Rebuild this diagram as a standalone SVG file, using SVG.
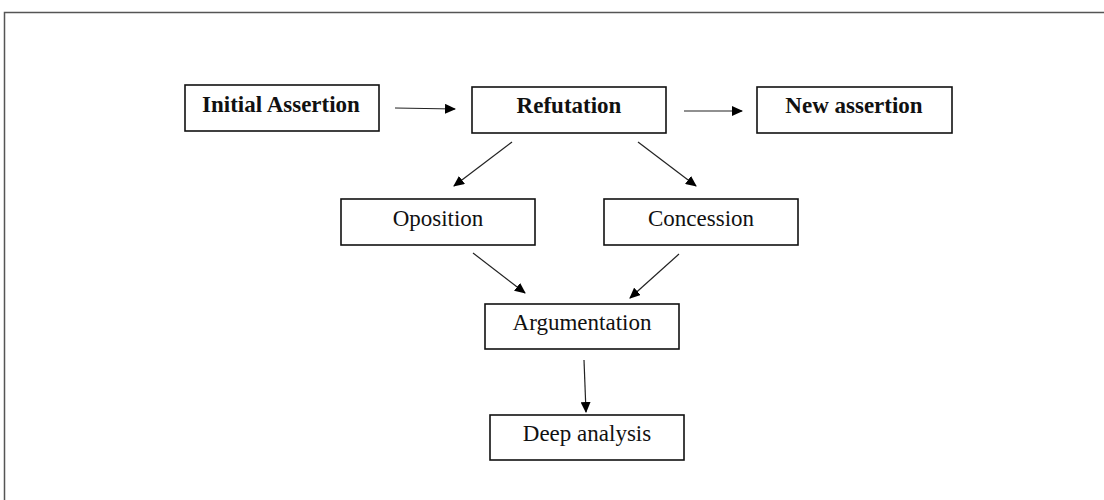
<svg xmlns="http://www.w3.org/2000/svg" width="1104" height="500" viewBox="0 0 1104 500">
<defs>
<marker id="ah" markerWidth="11" markerHeight="10" refX="10" refY="5" orient="auto" markerUnits="userSpaceOnUse">
<path d="M0,0 L11,5 L0,10 Z" fill="#000"/>
</marker>
<style>
.box{fill:#fff;stroke:#111;stroke-width:1.6}
.b{font-family:"Liberation Serif","Times New Roman",serif;font-size:23px;font-weight:bold;fill:#111;text-anchor:middle}
.r{font-family:"Liberation Serif","Times New Roman",serif;font-size:23px;fill:#111;text-anchor:middle}
.c{stroke:#222;stroke-width:1.2;fill:none;marker-end:url(#ah)}
</style>
</defs>
<rect x="0" y="0" width="1104" height="500" fill="#fff"/>
<rect x="4.5" y="12.5" width="1110" height="500" fill="none" stroke="#555" stroke-width="1.5"/>
<g id="initial-assertion"><rect class="box" x="185" y="85" width="194" height="46"/><text class="b" x="281" y="112">Initial Assertion</text></g>
<g id="refutation"><rect class="box" x="472" y="87" width="194" height="46"/><text class="b" x="569" y="113">Refutation</text></g>
<g id="new-assertion"><rect class="box" x="757" y="87" width="195" height="46"/><text class="b" x="854" y="113">New assertion</text></g>
<g id="oposition"><rect class="box" x="341" y="199" width="194" height="46"/><text class="r" x="438" y="226">Oposition</text></g>
<g id="concession"><rect class="box" x="604" y="199" width="194" height="46"/><text class="r" x="701" y="226">Concession</text></g>
<g id="argumentation"><rect class="box" x="485" y="304" width="194" height="45"/><text class="r" x="582" y="330">Argumentation</text></g>
<g id="deep-analysis"><rect class="box" x="490" y="415" width="194" height="45"/><text class="r" x="587" y="441">Deep analysis</text></g>
<g id="connectors">
<line class="c" x1="395" y1="108" x2="455" y2="109"/>
<line class="c" x1="684" y1="111" x2="742" y2="111"/>
<line class="c" x1="512" y1="142" x2="454" y2="186"/>
<line class="c" x1="638" y1="142" x2="696" y2="186"/>
<line class="c" x1="473" y1="253" x2="525" y2="293"/>
<line class="c" x1="679" y1="254" x2="630" y2="298"/>
<line class="c" x1="584" y1="360" x2="586" y2="412"/>
</g>
</svg>
